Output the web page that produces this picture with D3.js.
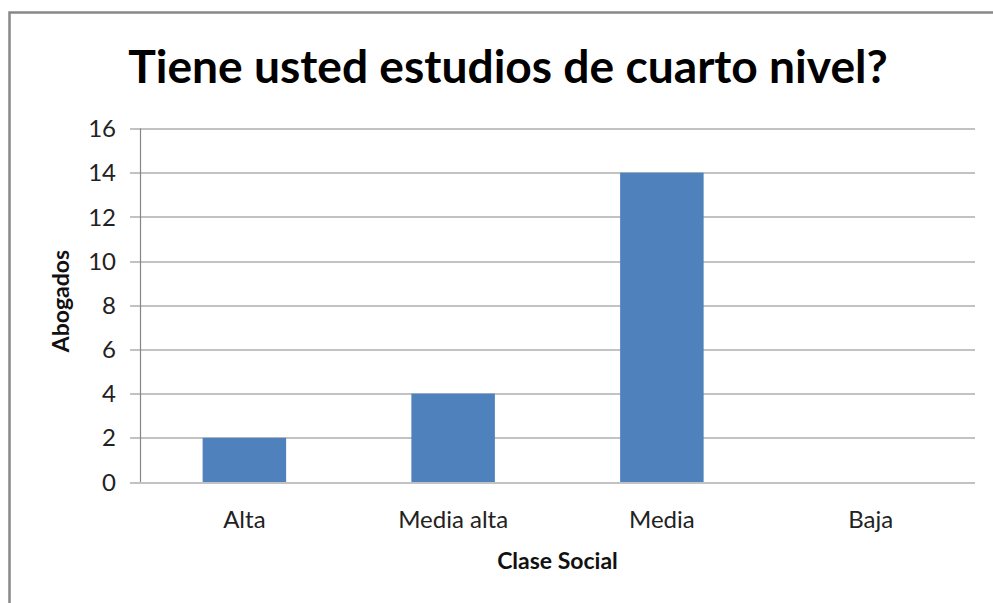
<!DOCTYPE html>
<html>
<head>
<meta charset="utf-8">
<script src="https://cdn.jsdelivr.net/npm/d3@7"></script>
<style>
  body { margin: 0; background: #fff; }
  svg { display: block; font-family: Lato, "Open Sans", sans-serif; }
</style>
</head>
<body>
<svg id="chart" width="993" height="603"></svg>
<script>
var categories = ["Alta", "Media alta", "Media", "Baja"];
var values = [2, 4, 14, 0];
var yTicks = [0, 2, 4, 6, 8, 10, 12, 14, 16];
var title = "Tiene usted estudios de cuarto nivel?";
var xLabel = "Clase Social";
var yLabel = "Abogados";

var svg = d3.select("#chart"),
  margin = { top: 128.5, right: 18, bottom: 121, left: 140 },
  width = +svg.attr("width") - margin.left - margin.right,
  height = +svg.attr("height") - margin.top - margin.bottom;

// outer frame, open on right and bottom
svg.append("rect")
  .attr("x", 9.5)
  .attr("y", 12.5)
  .attr("width", 1100)
  .attr("height", 700)
  .attr("fill", "none")
  .attr("stroke", "#888")
  .attr("stroke-width", 2.5);

var g = svg.append("g").attr("transform", "translate(" + margin.left + "," + margin.top + ")");

var x = d3.scaleBand()
  .domain(categories)
  .range([0, width])
  .paddingInner(0.6)
  .paddingOuter(0.3);

var y = d3.scaleLinear()
  .domain([0, 16])
  .range([height, 0]);

// gridlines
g.append("g")
  .selectAll("line")
  .data(yTicks)
  .join("line")
    .attr("x1", -10)
    .attr("x2", width)
    .attr("y1", d => Math.round(y(d)) + 0.5)
    .attr("y2", d => Math.round(y(d)) + 0.5)
    .attr("stroke", "#868686")
    .attr("stroke-width", 1.2);

// y axis line
g.append("line")
  .attr("x1", 0.5).attr("x2", 0.5)
  .attr("y1", y(16)).attr("y2", y(0))
  .attr("stroke", "#868686")
  .attr("stroke-width", 1.2);

// y tick labels
g.append("g")
  .selectAll("text")
  .data(yTicks)
  .join("text")
    .attr("x", -24)
    .attr("y", d => y(d))
    .attr("dy", "0.36em")
    .attr("text-anchor", "end")
    .attr("font-size", 24)
    .attr("fill", "#222")
    .text(d => d);

// bars
g.append("g")
  .selectAll("rect")
  .data(values)
  .join("rect")
    .attr("x", (d, i) => x(categories[i]))
    .attr("y", d => y(d))
    .attr("width", x.bandwidth())
    .attr("height", d => y(0) - y(d))
    .attr("fill", "#4F81BD");

// x tick labels
g.append("g")
  .selectAll("text")
  .data(categories)
  .join("text")
    .attr("x", d => x(d) + x.bandwidth() / 2)
    .attr("y", y(0) + 46)
    .attr("text-anchor", "middle")
    .attr("font-size", 24)
    .attr("fill", "#222")
    .text(d => d);

// axis titles
g.append("text")
  .attr("x", width / 2)
  .attr("y", y(0) + 87)
  .attr("text-anchor", "middle")
  .attr("font-size", 23)
  .attr("font-weight", "bold")
  .attr("fill", "#111")
  .text(xLabel);

g.append("text")
  .attr("transform", "translate(-71," + (y(0) - 181) + ") rotate(-90)")
  .attr("text-anchor", "middle")
  .attr("font-size", 23)
  .attr("font-weight", "bold")
  .attr("fill", "#111")
  .text(yLabel);

// chart title, sized to the width it takes in the original
var t = svg.append("text")
  .attr("x", 508)
  .attr("y", 83)
  .attr("text-anchor", "middle")
  .attr("font-size", 44)
  .attr("font-weight", "bold")
  .attr("fill", "#000")
  .text(title);
var tw = t.node().getComputedTextLength();
t.attr("font-size", 44 * 760 / tw);
</script>
</body>
</html>
